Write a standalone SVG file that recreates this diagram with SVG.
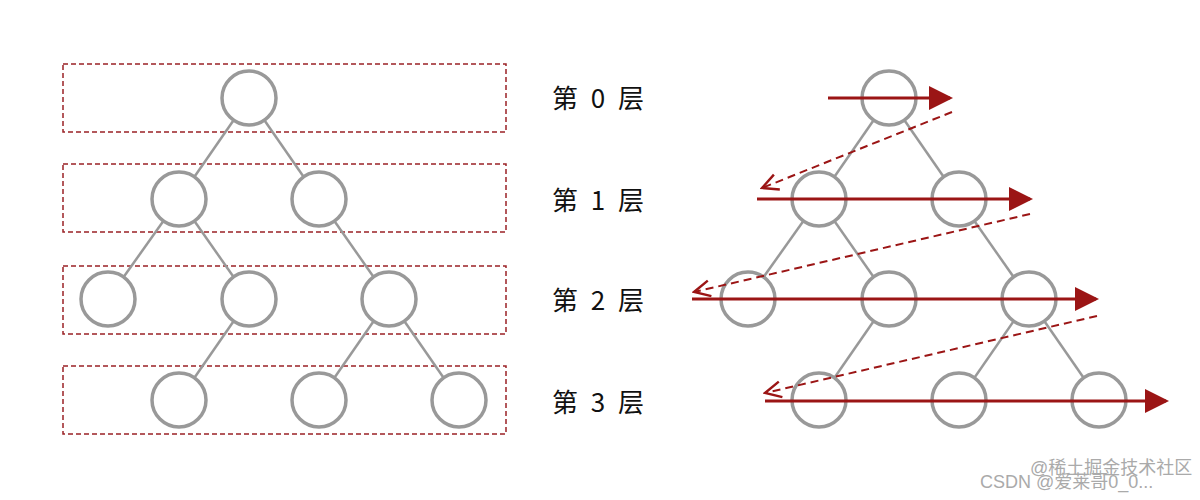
<svg xmlns="http://www.w3.org/2000/svg" width="1200" height="500" viewBox="0 0 1200 500">
<style>
.n{fill:#fff;stroke:#999;stroke-width:3.5}
.e{stroke:#999;stroke-width:2.5}
.box{fill:none;stroke:#9b2226;stroke-width:1.5;stroke-dasharray:5 3}
.lbl{font-family:"Noto Sans CJK SC","Noto Sans",sans-serif;font-size:26px;fill:#111;word-spacing:7px}
.s{stroke:#9b1515;stroke-width:3;fill:none}
.d{stroke:#9b1515;stroke-width:2;stroke-dasharray:8 5;fill:none}
.wm{font-family:"Liberation Sans","Noto Sans CJK SC",sans-serif;font-size:18px;fill:#aaa}
</style>
<defs>
<marker id="sa" markerWidth="8" markerHeight="8" refX="7" refY="4" orient="auto" markerUnits="strokeWidth"><path d="M0,0 L8,4 L0,8 z" fill="#9b1515"/></marker>
<marker id="oa" markerWidth="10" markerHeight="10" refX="9" refY="5" orient="auto" markerUnits="strokeWidth"><path d="M1,1 L9,5 L1,9" fill="none" stroke="#9b1515" stroke-width="1.2"/></marker>
</defs>
<g id="boxes">
<rect class="box" x="63" y="64" width="443" height="68"/>
<rect class="box" x="63" y="164" width="443" height="68"/>
<rect class="box" x="63" y="266" width="443" height="68"/>
<rect class="box" x="63" y="366" width="443" height="68"/>
</g>
<g id="edges">
<line class="e" x1="249" y1="98" x2="179" y2="199"/><line class="e" x1="249" y1="98" x2="319" y2="199"/>
<line class="e" x1="179" y1="199" x2="108" y2="299"/><line class="e" x1="179" y1="199" x2="249" y2="299"/>
<line class="e" x1="319" y1="199" x2="389" y2="299"/><line class="e" x1="249" y1="299" x2="179" y2="400"/>
<line class="e" x1="389" y1="299" x2="319" y2="400"/><line class="e" x1="389" y1="299" x2="459" y2="400"/>
<line class="e" x1="889" y1="98" x2="819" y2="199"/><line class="e" x1="889" y1="98" x2="959" y2="199"/>
<line class="e" x1="819" y1="199" x2="748" y2="299"/><line class="e" x1="819" y1="199" x2="889" y2="299"/>
<line class="e" x1="959" y1="199" x2="1029" y2="299"/><line class="e" x1="889" y1="299" x2="819" y2="400"/>
<line class="e" x1="1029" y1="299" x2="959" y2="400"/><line class="e" x1="1029" y1="299" x2="1099" y2="400"/>
</g>
<g id="nodesL">
<circle class="n" cx="249" cy="98" r="27"/><circle class="n" cx="179" cy="199" r="27"/><circle class="n" cx="319" cy="199" r="27"/>
<circle class="n" cx="108" cy="299" r="27"/><circle class="n" cx="249" cy="299" r="27"/><circle class="n" cx="389" cy="299" r="27"/>
<circle class="n" cx="179" cy="400" r="27"/><circle class="n" cx="319" cy="400" r="27"/><circle class="n" cx="459" cy="400" r="27"/>
</g>
<g id="nodesR">
<circle class="n" cx="889" cy="98" r="27"/><circle class="n" cx="819" cy="199" r="27"/><circle class="n" cx="959" cy="199" r="27"/>
<circle class="n" cx="748" cy="299" r="27"/><circle class="n" cx="889" cy="299" r="27"/><circle class="n" cx="1029" cy="299" r="27"/>
<circle class="n" cx="819" cy="400" r="27"/><circle class="n" cx="959" cy="400" r="27"/><circle class="n" cx="1099" cy="400" r="27"/>
</g>
<g id="labels">
<text class="lbl" x="552" y="108">第 0 层</text>
<text class="lbl" x="552" y="210">第 1 层</text>
<text class="lbl" x="552" y="310">第 2 层</text>
<text class="lbl" x="552" y="412">第 3 层</text>
</g>
<g id="arrows">
<line class="s" x1="828" y1="98" x2="950" y2="98" marker-end="url(#sa)"/>
<line class="s" x1="757" y1="199" x2="1030" y2="199" marker-end="url(#sa)"/>
<line class="s" x1="692" y1="299" x2="1096" y2="299" marker-end="url(#sa)"/>
<line class="s" x1="765" y1="401" x2="1166" y2="401" marker-end="url(#sa)"/>
<line class="d" x1="952" y1="112" x2="762" y2="188" marker-end="url(#oa)"/>
<line class="d" x1="1030" y1="214" x2="694" y2="292" marker-end="url(#oa)"/>
<line class="d" x1="1097" y1="316" x2="765" y2="393" marker-end="url(#oa)"/>
</g>
<g id="watermark">
<text class="wm" x="1030" y="474">@稀土掘金技术社区</text>
<text class="wm" x="980" y="488">CSDN @爱莱哥0_0...</text>
</g>
</svg>
